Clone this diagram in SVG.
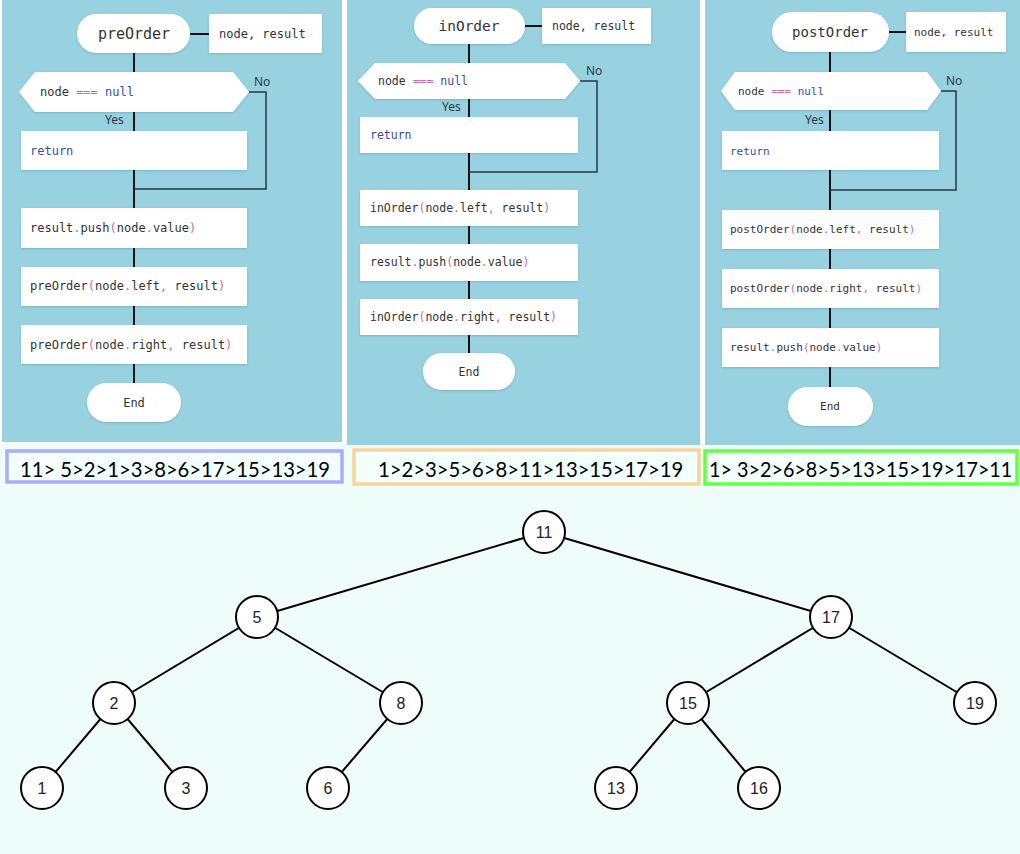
<svg xmlns="http://www.w3.org/2000/svg" width="1020" height="854" viewBox="0 0 1020 854">
<style>
.panel{fill:#98d2e0}
.box{fill:#ffffff;filter:url(#sh)}
.mono{font-family:"DejaVu Sans Mono","Liberation Mono",monospace;fill:#333333}
.p{fill:#d06aa4}
.b{fill:#3a4c9e}
.lbl{font-family:"Noto Sans","DejaVu Sans",sans-serif;font-size:12px;fill:#2a3a40}
.main{stroke:#111111;stroke-width:2;fill:none}
.loop{stroke:#1f3a44;stroke-width:1.5;fill:none}
.edge{stroke:#000000;stroke-width:2}
.tn{fill:#ffffff;stroke:#000000;stroke-width:2}
.tt{font-family:"Liberation Sans",Arial,sans-serif;font-size:16px;fill:#222222;text-anchor:middle}
.seq{font-family:Lato,"Liberation Sans",sans-serif;font-size:22px;fill:#000000}
</style>
<defs>
<filter id="sh" x="-10%" y="-20%" width="120%" height="150%">
<feDropShadow dx="0" dy="1" stdDeviation="1" flood-color="#335560" flood-opacity="0.25"/>
</filter>
</defs>
<rect x="0" y="0" width="1020" height="854" fill="#ffffff"/>
<rect x="0" y="444" width="1020" height="410" fill="#effdfa"/>
<rect class="panel" x="2" y="0" width="340" height="442"/>
<rect class="panel" x="347" y="0" width="353" height="445"/>
<rect class="panel" x="705" y="0" width="315" height="445"/>

<g id="connectors">
<line class="main" x1="190" y1="34" x2="209" y2="34" stroke-width="1.5"/>
<line class="main" x1="134" y1="53" x2="134" y2="383"/>
<polyline class="loop" points="249,92 266,92 266,189 134,189"/>
<line class="main" x1="525" y1="26" x2="542" y2="26" stroke-width="1.5"/>
<line class="main" x1="469" y1="44" x2="469" y2="353"/>
<polyline class="loop" points="580,81 597,81 597,172 469,172"/>
<line class="main" x1="889" y1="32" x2="906" y2="32" stroke-width="1.5"/>
<line class="main" x1="830" y1="52" x2="830" y2="387"/>
<polyline class="loop" points="941,91 956,91 956,190 830,190"/>
<line class="edge" x1="544" y1="532" x2="257" y2="617"/>
<line class="edge" x1="544" y1="532" x2="831" y2="617"/>
<line class="edge" x1="257" y1="617" x2="114" y2="703"/>
<line class="edge" x1="257" y1="617" x2="401" y2="703"/>
<line class="edge" x1="831" y1="617" x2="688" y2="703"/>
<line class="edge" x1="831" y1="617" x2="975" y2="703"/>
<line class="edge" x1="114" y1="703" x2="42" y2="788"/>
<line class="edge" x1="114" y1="703" x2="186" y2="788"/>
<line class="edge" x1="401" y1="703" x2="328" y2="788"/>
<line class="edge" x1="688" y1="703" x2="616" y2="788"/>
<line class="edge" x1="688" y1="703" x2="759" y2="788"/>
</g>

<!-- preOrder panel -->
<g id="pre-start"><rect class="box" x="77" y="14" width="113" height="39" rx="19.5"/><text class="mono" x="134" y="39" font-size="15" text-anchor="middle">preOrder</text></g>
<g id="pre-params"><rect class="box" x="209" y="14" width="113" height="39"/><text class="mono" x="219" y="38" font-size="12">node, result</text></g>
<g id="pre-cond"><polygon class="box" points="19,92 35,72 233,72 249,92 233,112 35,112"/><text class="mono" x="40" y="96" font-size="12">node <tspan class="p">===</tspan> <tspan class="b">null</tspan></text></g>
<text class="lbl" x="254" y="86">No</text>
<text class="lbl" x="105" y="124">Yes</text>
<g id="pre-return"><rect class="box" x="21" y="131" width="226" height="39"/><text class="mono b" x="30" y="155" font-size="12">return</text></g>
<g id="pre-push"><rect class="box" x="21" y="208" width="226" height="40"/><text class="mono" x="30" y="232" font-size="12">result<tspan class="p">.</tspan>push<tspan class="p">(</tspan>node<tspan class="p">.</tspan>value<tspan class="p">)</tspan></text></g>
<g id="pre-left"><rect class="box" x="21" y="267" width="226" height="39"/><text class="mono" x="30" y="290" font-size="12">preOrder<tspan class="p">(</tspan>node<tspan class="p">.</tspan>left<tspan class="p">,</tspan> result<tspan class="p">)</tspan></text></g>
<g id="pre-right"><rect class="box" x="21" y="325" width="226" height="39"/><text class="mono" x="30" y="349" font-size="12">preOrder<tspan class="p">(</tspan>node<tspan class="p">.</tspan>right<tspan class="p">,</tspan> result<tspan class="p">)</tspan></text></g>
<g id="pre-end"><rect class="box" x="87" y="383" width="94" height="39" rx="19.5"/><text class="mono" x="134" y="407" font-size="12" text-anchor="middle">End</text></g>

<!-- inOrder panel -->
<g id="in-start"><rect class="box" x="414" y="8" width="111" height="36" rx="18"/><text class="mono" x="469" y="31" font-size="14.5" text-anchor="middle">inOrder</text></g>
<g id="in-params"><rect class="box" x="542" y="8" width="109" height="36"/><text class="mono" x="552" y="30" font-size="11.5">node, result</text></g>
<g id="in-cond"><polygon class="box" points="358,81 375,63 565,63 580,81 565,99 375,99"/><text class="mono" x="378" y="85" font-size="11.5">node <tspan class="p">===</tspan> <tspan class="b">null</tspan></text></g>
<text class="lbl" x="586" y="75">No</text>
<text class="lbl" x="442" y="111">Yes</text>
<g id="in-return"><rect class="box" x="360" y="117" width="218" height="36"/><text class="mono b" x="370" y="139" font-size="11.5">return</text></g>
<g id="in-left"><rect class="box" x="360" y="190" width="218" height="36"/><text class="mono" x="370" y="212" font-size="11.5">inOrder<tspan class="p">(</tspan>node<tspan class="p">.</tspan>left<tspan class="p">,</tspan> result<tspan class="p">)</tspan></text></g>
<g id="in-push"><rect class="box" x="360" y="244" width="218" height="37"/><text class="mono" x="370" y="266" font-size="11.5">result<tspan class="p">.</tspan>push<tspan class="p">(</tspan>node<tspan class="p">.</tspan>value<tspan class="p">)</tspan></text></g>
<g id="in-right"><rect class="box" x="360" y="299" width="218" height="36"/><text class="mono" x="370" y="321" font-size="11.5">inOrder<tspan class="p">(</tspan>node<tspan class="p">.</tspan>right<tspan class="p">,</tspan> result<tspan class="p">)</tspan></text></g>
<g id="in-end"><rect class="box" x="423" y="353" width="92" height="37" rx="18.5"/><text class="mono" x="469" y="376" font-size="11.5" text-anchor="middle">End</text></g>

<!-- postOrder panel -->
<g id="post-start"><rect class="box" x="772" y="12" width="117" height="40" rx="20"/><text class="mono" x="830" y="37" font-size="14" text-anchor="middle">postOrder</text></g>
<g id="post-params"><rect class="box" x="906" y="12" width="100" height="40"/><text class="mono" x="914" y="36" font-size="11">node, result</text></g>
<g id="post-cond"><polygon class="box" points="721,91 735,72 927,72 941,91 927,110 735,110"/><text class="mono" x="738" y="95" font-size="11">node <tspan class="p">===</tspan> <tspan class="b">null</tspan></text></g>
<text class="lbl" x="946" y="85">No</text>
<text class="lbl" x="805" y="124">Yes</text>
<g id="post-return"><rect class="box" x="722" y="131" width="217" height="39"/><text class="mono b" x="730" y="155" font-size="11">return</text></g>
<g id="post-left"><rect class="box" x="722" y="210" width="217" height="39"/><text class="mono" x="730" y="233" font-size="11">postOrder<tspan class="p">(</tspan>node<tspan class="p">.</tspan>left<tspan class="p">,</tspan> result<tspan class="p">)</tspan></text></g>
<g id="post-right"><rect class="box" x="722" y="269" width="217" height="39"/><text class="mono" x="730" y="292" font-size="11">postOrder<tspan class="p">(</tspan>node<tspan class="p">.</tspan>right<tspan class="p">,</tspan> result<tspan class="p">)</tspan></text></g>
<g id="post-push"><rect class="box" x="722" y="328" width="217" height="39"/><text class="mono" x="730" y="351" font-size="11">result<tspan class="p">.</tspan>push<tspan class="p">(</tspan>node<tspan class="p">.</tspan>value<tspan class="p">)</tspan></text></g>
<g id="post-end"><rect class="box" x="788" y="387" width="85" height="39" rx="19.5"/><text class="mono" x="830" y="410" font-size="11" text-anchor="middle">End</text></g>

<!-- traversal results -->
<g id="seq-pre"><rect x="7" y="451" width="335" height="31" fill="#f3fffc" stroke="#aaaaff" stroke-width="3.5"/><text class="seq" transform="translate(20,477) scale(0.92,1)" x="0" y="0" textLength="337" lengthAdjust="spacingAndGlyphs">11&gt; 5&gt;2&gt;1&gt;3&gt;8&gt;6&gt;17&gt;15&gt;13&gt;19</text></g>
<g id="seq-in"><rect x="354" y="450" width="345" height="34" fill="#f3fffc" stroke="#f8d39c" stroke-width="3.5"/><text class="seq" transform="translate(378,477) scale(0.885,1)" x="0" y="0" textLength="345" lengthAdjust="spacingAndGlyphs">1&gt;2&gt;3&gt;5&gt;6&gt;8&gt;11&gt;13&gt;15&gt;17&gt;19</text></g>
<g id="seq-post"><rect x="705" y="451" width="312" height="33" fill="#f3fffc" stroke="#66ff44" stroke-width="3.5"/><text class="seq" transform="translate(709,477) scale(0.9,1)" x="0" y="0" textLength="337" lengthAdjust="spacingAndGlyphs">1&gt; 3&gt;2&gt;6&gt;8&gt;5&gt;13&gt;15&gt;19&gt;17&gt;11</text></g>

<!-- tree -->
<g id="n11"><circle class="tn" cx="544" cy="532" r="21"/><text class="tt" x="544" y="538">11</text></g>
<g id="n5"><circle class="tn" cx="257" cy="617" r="21"/><text class="tt" x="257" y="623">5</text></g>
<g id="n17"><circle class="tn" cx="831" cy="617" r="21"/><text class="tt" x="831" y="623">17</text></g>
<g id="n2"><circle class="tn" cx="114" cy="703" r="21"/><text class="tt" x="114" y="709">2</text></g>
<g id="n8"><circle class="tn" cx="401" cy="703" r="21"/><text class="tt" x="401" y="709">8</text></g>
<g id="n15"><circle class="tn" cx="688" cy="703" r="21"/><text class="tt" x="688" y="709">15</text></g>
<g id="n19"><circle class="tn" cx="975" cy="703" r="21"/><text class="tt" x="975" y="709">19</text></g>
<g id="n1"><circle class="tn" cx="42" cy="788" r="21"/><text class="tt" x="42" y="794">1</text></g>
<g id="n3"><circle class="tn" cx="186" cy="788" r="21"/><text class="tt" x="186" y="794">3</text></g>
<g id="n6"><circle class="tn" cx="328" cy="788" r="21"/><text class="tt" x="328" y="794">6</text></g>
<g id="n13"><circle class="tn" cx="616" cy="788" r="21"/><text class="tt" x="616" y="794">13</text></g>
<g id="n16"><circle class="tn" cx="759" cy="788" r="21"/><text class="tt" x="759" y="794">16</text></g>
</svg>
